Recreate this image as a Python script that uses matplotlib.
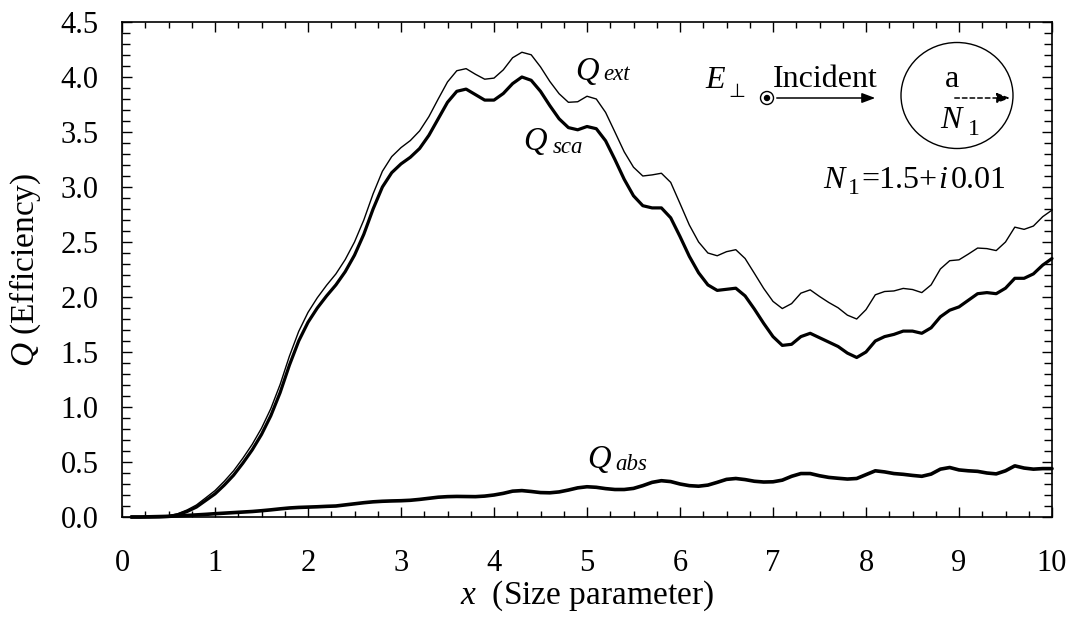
import numpy as np
import matplotlib.pyplot as plt
from matplotlib.patches import Ellipse, FancyArrowPatch
from matplotlib.ticker import MultipleLocator

plt.rcParams['font.family'] = ['Liberation Serif', 'DejaVu Sans']
plt.rcParams['mathtext.fontset'] = 'custom'
plt.rcParams['mathtext.rm'] = 'Liberation Serif'
plt.rcParams['mathtext.it'] = 'Liberation Serif:italic'

W, H = 1079, 638

# size parameter samples (step 0.1)
size_x = np.round(np.arange(1, 101) * 0.1, 1)

q_ext = [0.0, 0.0, 0.002, 0.005, 0.011, 0.03, 0.064, 0.109, 0.174, 0.24,
         0.325, 0.42, 0.535, 0.66, 0.807, 0.985, 1.204, 1.462, 1.687, 1.86,
         1.993, 2.107, 2.21, 2.34, 2.50, 2.70, 2.938, 3.143, 3.276, 3.358,
         3.422, 3.51, 3.64, 3.80, 3.955, 4.057, 4.076, 4.025, 3.98, 3.99,
         4.065, 4.175, 4.225, 4.202, 4.092, 3.96, 3.848, 3.77, 3.775, 3.825,
         3.80, 3.678, 3.50, 3.32, 3.18, 3.10, 3.11, 3.125, 3.042, 2.85,
         2.655, 2.50, 2.40, 2.375, 2.412, 2.43, 2.35, 2.215, 2.078, 1.96,
         1.895, 1.94, 2.035, 2.065, 2.005, 1.95, 1.902, 1.835, 1.80, 1.885,
         2.02, 2.05, 2.055, 2.078, 2.068, 2.04, 2.11, 2.255, 2.33, 2.338,
         2.39, 2.445, 2.44, 2.422, 2.50, 2.635, 2.615, 2.645, 2.73, 2.79]

q_sca = [0.0, 0.0, 0.0, 0.001, 0.005, 0.02, 0.05, 0.09, 0.15, 0.21,
         0.29, 0.38, 0.49, 0.61, 0.75, 0.92, 1.13, 1.38, 1.60, 1.77,
         1.90, 2.01, 2.11, 2.23, 2.38, 2.57, 2.80, 3.00, 3.13, 3.21,
         3.27, 3.35, 3.47, 3.62, 3.77, 3.87, 3.89, 3.84, 3.79, 3.79,
         3.85, 3.94, 4.00, 3.97, 3.87, 3.74, 3.62, 3.54, 3.52, 3.55,
         3.53, 3.42, 3.25, 3.07, 2.92, 2.83, 2.81, 2.81, 2.72, 2.55,
         2.37, 2.22, 2.11, 2.06, 2.07, 2.08, 2.01, 1.89, 1.76, 1.64,
         1.56, 1.57, 1.64, 1.67, 1.63, 1.59, 1.55, 1.49, 1.45, 1.50,
         1.60, 1.64, 1.66, 1.69, 1.69, 1.67, 1.72, 1.82, 1.88, 1.91,
         1.97, 2.03, 2.04, 2.03, 2.08, 2.17, 2.17, 2.21, 2.29, 2.35]

q_abs = [0.0, 0.0, 0.002, 0.004, 0.006, 0.01, 0.014, 0.019, 0.024, 0.03,
         0.035, 0.04, 0.045, 0.05, 0.057, 0.065, 0.074, 0.082, 0.087, 0.09,
         0.093, 0.097, 0.10, 0.11, 0.12, 0.13, 0.138, 0.143, 0.146, 0.148,
         0.152, 0.16, 0.17, 0.18, 0.185, 0.187, 0.186, 0.185, 0.19, 0.20,
         0.215, 0.235, 0.24, 0.232, 0.222, 0.22, 0.228, 0.245, 0.265, 0.275,
         0.27, 0.258, 0.25, 0.25, 0.26, 0.285, 0.315, 0.33, 0.322, 0.30,
         0.285, 0.28, 0.29, 0.315, 0.342, 0.35, 0.34, 0.325, 0.318, 0.32,
         0.335, 0.37, 0.395, 0.395, 0.375, 0.36, 0.352, 0.345, 0.35, 0.385,
         0.42, 0.41, 0.395, 0.388, 0.378, 0.37, 0.39, 0.435, 0.45, 0.428,
         0.42, 0.415, 0.40, 0.392, 0.42, 0.465, 0.445, 0.435, 0.44, 0.44]

xticks = list(range(0, 11))
yticks = [0.0, 0.5, 1.0, 1.5, 2.0, 2.5, 3.0, 3.5, 4.0, 4.5]


def fx(px):
    return px / W


def fy(py):
    return 1 - py / H


fig = plt.figure(figsize=(W / 100, H / 100), dpi=100)
ax = fig.add_axes([fx(122), fy(517), (1052 - 122) / W, (517 - 22) / H])

line_kw = dict(color='k', clip_on=False, solid_joinstyle='round', solid_capstyle='round')
ax.plot(size_x, q_ext, lw=1.0, **line_kw)
ax.plot(size_x, q_sca, lw=2.3, **line_kw)
ax.plot(size_x, q_abs, lw=2.6, **line_kw)

ax.set_xlim(0, 10)
ax.set_ylim(0, 4.5)
ax.set_xticks(xticks)
ax.set_yticks(yticks)
ax.set_yticklabels([f'{v:.1f}' for v in yticks])
ax.xaxis.set_minor_locator(MultipleLocator(0.25))
ax.yaxis.set_minor_locator(MultipleLocator(0.1))
ax.tick_params(which='both', direction='in', top=True, right=True,
               labelsize=22, width=1.0)
ax.tick_params(which='major', length=7.5)
ax.tick_params(axis='x', which='minor', length=4)
ax.tick_params(axis='y', which='minor', length=6)
ax.tick_params(axis='x', pad=23)
ax.tick_params(axis='y', pad=17)
for s in ax.spines.values():
    s.set_linewidth(1.2)

ax.set_xlabel('$x$  (Size parameter)', fontsize=24)
ax.xaxis.set_label_coords(0.5, -0.125)
ax.set_ylabel('$Q$ (Efficiency)', fontsize=24)
ax.yaxis.set_label_coords(-0.085, 0.5)


def put(px, py, s, size=23, style='normal', ha='left'):
    fig.text(fx(px), fy(py), s, fontsize=size, fontstyle=style,
             ha=ha, va='baseline')


# curve labels
put(575, 80, 'Q', 23.5, 'italic')
put(603, 80, 'ext', 16.5, 'italic')
put(523, 150, 'Q', 23.5, 'italic')
put(553, 153, 'sca', 16.5, 'italic')
put(587, 468, 'Q', 23.5, 'italic')
put(615, 470, 'abs', 16.5, 'italic')

# incident field sketch
put(705, 88, 'E', 23, 'italic')
put(728, 97, '\u22a5', 14)
put(773, 87, 'Incident', 23)
fig.add_artist(Ellipse((fx(767), fy(98)), 13 / W, 13 / H, transform=fig.transFigure,
                       fill=False, lw=1.0, ec='k'))
fig.add_artist(Ellipse((fx(767), fy(98)), 5 / W, 5 / H, transform=fig.transFigure,
                       fc='k', ec='k'))
fig.add_artist(FancyArrowPatch((fx(774), fy(98)), (fx(878), fy(98)),
                               transform=fig.transFigure,
                               arrowstyle='-|>,head_length=0.8,head_width=0.3',
                               mutation_scale=10, lw=1.1, color='k'))

# cylinder cross-section
fig.add_artist(Ellipse((fx(957), fy(95.5)), 112 / W, 106 / H, transform=fig.transFigure,
                       fill=False, lw=1.0, ec='k'))
fig.add_artist(FancyArrowPatch((fx(952), fy(98)), (fx(1013), fy(98)),
                               transform=fig.transFigure,
                               arrowstyle='-|>,head_length=0.8,head_width=0.3',
                               mutation_scale=10, lw=1.1, color='k',
                               linestyle=(0, (3, 2))))
put(952, 87, 'a', 23, ha='center')
put(940, 128, 'N', 23, 'italic')
put(968, 135, '1', 17)

# refractive index
put(823, 188, 'N', 23, 'italic')
put(848, 194, '1', 17)
put(861, 188, '=1.5+', 23)
put(938, 188, 'i', 23, 'italic')
put(951, 188, '0.01', 23)

fig.savefig('out.png', dpi=100)
